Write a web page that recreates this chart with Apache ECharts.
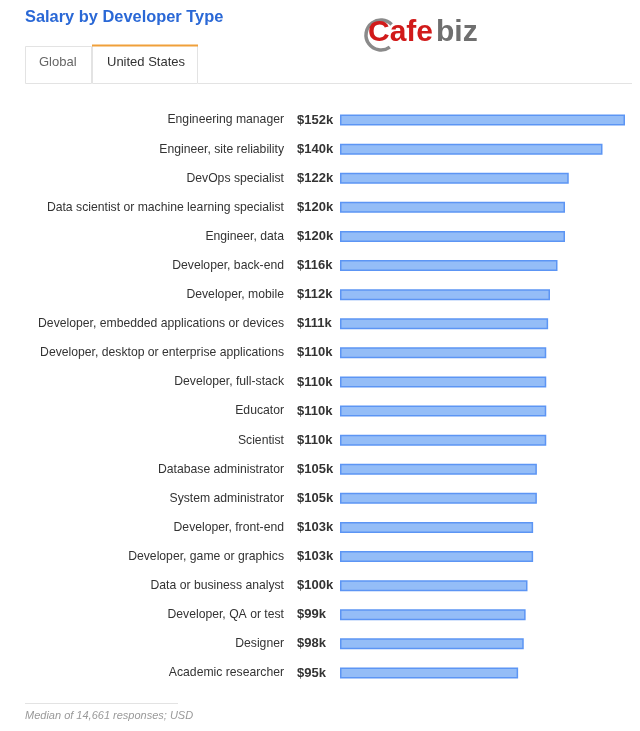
<!DOCTYPE html>
<html><head><meta charset="utf-8">
<script src="https://cdn.jsdelivr.net/npm/echarts@6/dist/echarts.min.js"></script>
<style>html,body{margin:0;padding:0;background:#fff}#c{width:640px;height:731px}</style>
</head><body><div id="c"></div>
<script>
const categories = ["Engineering manager","Engineer, site reliability","DevOps specialist","Data scientist or machine learning specialist","Engineer, data","Developer, back-end","Developer, mobile","Developer, embedded applications or devices","Developer, desktop or enterprise applications","Developer, full-stack","Educator","Scientist","Database administrator","System administrator","Developer, front-end","Developer, game or graphics","Data or business analyst","Developer, QA or test","Designer","Academic researcher"];
const salaries = [152,140,122,120,120,116,112,111,110,110,110,110,105,105,103,103,100,99,98,95];
const titleText = "Salary by Developer Type";
const tabLabels = ["Global","United States"];
const footnote = "Median of 14,661 responses; USD";

const chart = echarts.init(document.getElementById('c'), null, {renderer:'canvas'});
const valueOf = {};
categories.forEach((c,i)=>valueOf[c]=salaries[i]);
const FONT = 'Liberation Sans, Arial, Helvetica, sans-serif';
const baseY = {type:'category',data:categories,inverse:true,position:'left',offset:0,
  axisLine:{show:false},axisTick:{show:false},splitLine:{show:false}};
chart.setOption({
  animation:false,
  textStyle:{fontFamily:FONT},
  grid:{left:340,top:105.5,width:285,height:582,containLabel:false},
  xAxis:{type:'value',min:0,max:152,show:false},
  yAxis:[
    Object.assign({},baseY,{axisLabel:{margin:56,align:'right',fontFamily:FONT,fontSize:12.2,color:'#333',padding:[2,0,0,0]}}),
    Object.assign({},baseY,{axisLabel:{margin:43,align:'left',fontFamily:FONT,fontSize:13,fontWeight:'bold',color:'#333',
      formatter:(v)=>'$'+valueOf[v]+'k'}})
  ],
  series:[{type:'bar',data:salaries,barWidth:11,yAxisIndex:0,
    itemStyle:{color:'#94bdf7',borderColor:'#5c95f4',borderWidth:1.5}}],
  graphic:[
    {type:'text',left:25,top:9,style:{text:titleText,font:'bold 16.4px '+FONT,fill:'#2a68d6'}},
    // logo
    {type:'arc',shape:{cx:381,cy:35,r:15,startAngle:Math.PI*0.3,endAngle:Math.PI*1.75},style:{stroke:'#8a8a8a',lineWidth:3.5,fill:null}},
    {type:'text',left:368,top:18,style:{text:'Cafe',font:'bold 30px '+FONT,fill:'#d11a1a'}},
    {type:'text',left:436,top:18,style:{text:'biz',font:'bold 30px '+FONT,fill:'#6f6f6f'}},
    // tabs
    {type:'rect',shape:{x:25.5,y:46.5,width:66,height:37},style:{fill:'#fff',stroke:'#e3e3e3',lineWidth:1}},
    {type:'rect',shape:{x:92.5,y:45.5,width:105,height:38},style:{fill:'#fff',stroke:'#e3e3e3',lineWidth:1}},
    {type:'line',shape:{x1:92,y1:45.5,x2:198,y2:45.5},style:{stroke:'#f0a03a',lineWidth:2}},
    {type:'line',shape:{x1:198,y1:83.5,x2:632,y2:83.5},style:{stroke:'#e3e3e3',lineWidth:1}},
    {type:'text',left:39,top:56,style:{text:tabLabels[0],font:'13px '+FONT,fill:'#666'}},
    {type:'text',left:107,top:56,style:{text:tabLabels[1],font:'13px '+FONT,fill:'#333'}},
    // footer
    {type:'line',shape:{x1:25,y1:703.5,x2:178,y2:703.5},style:{stroke:'#e3e3e3',lineWidth:1}},
    {type:'text',left:25,top:710,style:{text:footnote,font:'italic 11px '+FONT,fill:'#999'}}
  ]
});
</script></body></html>
